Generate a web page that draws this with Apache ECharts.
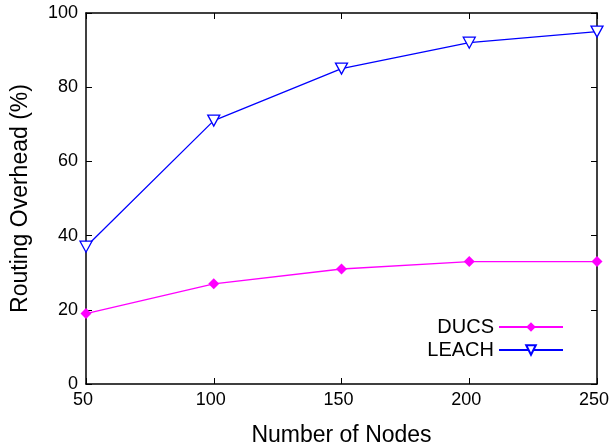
<!DOCTYPE html>
<html>
<head>
<meta charset="utf-8">
<script src="https://cdn.jsdelivr.net/npm/echarts@6/dist/echarts.min.js"></script>
<style>
  html, body { margin: 0; padding: 0; background: #fff; }
  #chart { width: 609px; height: 446px; }
</style>
</head>
<body>
<div id="chart"></div>
<script>
const nodes = [50, 100, 150, 200, 250];
const ducs = [19, 27, 31, 33, 33];
const leach = [37, 71, 85, 92, 95];

const font = "Liberation Sans, Arial, Helvetica, sans-serif";
const chart = echarts.init(document.getElementById("chart"));

const tick = { show: true, inside: true, length: 6, lineStyle: { color: "#000", width: 1 } };
const line = { show: true, onZero: false, lineStyle: { color: "#000", width: 1.5 } };

chart.setOption({
  animation: false,
  textStyle: { fontFamily: font, color: "#000" },
  grid: { left: 86, right: 12, top: 13, bottom: 62, outerBoundsMode: "none", containLabel: false },
  legend: {
    orient: "vertical",
    right: 40,
    top: 312,
    align: "right",
    itemWidth: 64,
    itemHeight: 12,
    itemGap: 3,
    textStyle: { fontSize: 20, color: "#000", fontFamily: font },
    data: ["DUCS", "LEACH"],
  },
  xAxis: [
    {
      type: "value", min: 50, max: 250, interval: 50,
      name: "Number of Nodes", nameLocation: "middle", nameGap: 40,
      nameTextStyle: { fontSize: 23, color: "#000" },
      axisLine: line, axisTick: tick, splitLine: { show: false },
      axisLabel: { fontSize: 18, color: "#000", margin: 7, padding: [0, 6, 0, 0] },
    },
    {
      type: "value", position: "top", min: 50, max: 250, interval: 50,
      axisLine: line, axisTick: tick, splitLine: { show: false }, axisLabel: { show: false },
    },
  ],
  yAxis: [
    {
      type: "value", min: 0, max: 100, interval: 20,
      name: "Routing Overhead (%)", nameLocation: "middle", nameGap: 54,
      nameTextStyle: { fontSize: 23, color: "#000" },
      axisLine: line, axisTick: tick, splitLine: { show: false },
      axisLabel: { fontSize: 18, color: "#000", margin: 8 },
    },
    {
      type: "value", position: "right", min: 0, max: 100, interval: 20,
      axisLine: line, axisTick: tick, splitLine: { show: false }, axisLabel: { show: false },
    },
  ],
  series: [
    {
      name: "DUCS", type: "line",
      data: nodes.map((n, i) => [n, ducs[i]]),
      symbol: "diamond", symbolSize: 11,
      lineStyle: { color: "#ff00ff", width: 1.3 },
      itemStyle: { color: "#ff00ff" },
    },
    {
      name: "LEACH", type: "line",
      data: nodes.map((n, i) => [n, leach[i]]),
      symbol: "path://M0,0 L10,0 L5,9 Z", symbolSize: [12, 11],
      lineStyle: { color: "#0000ff", width: 1.3 },
      itemStyle: { color: "#ffffff", borderColor: "#0000ff", borderWidth: 1.3 },
    },
  ],
});
</script>
</body>
</html>
